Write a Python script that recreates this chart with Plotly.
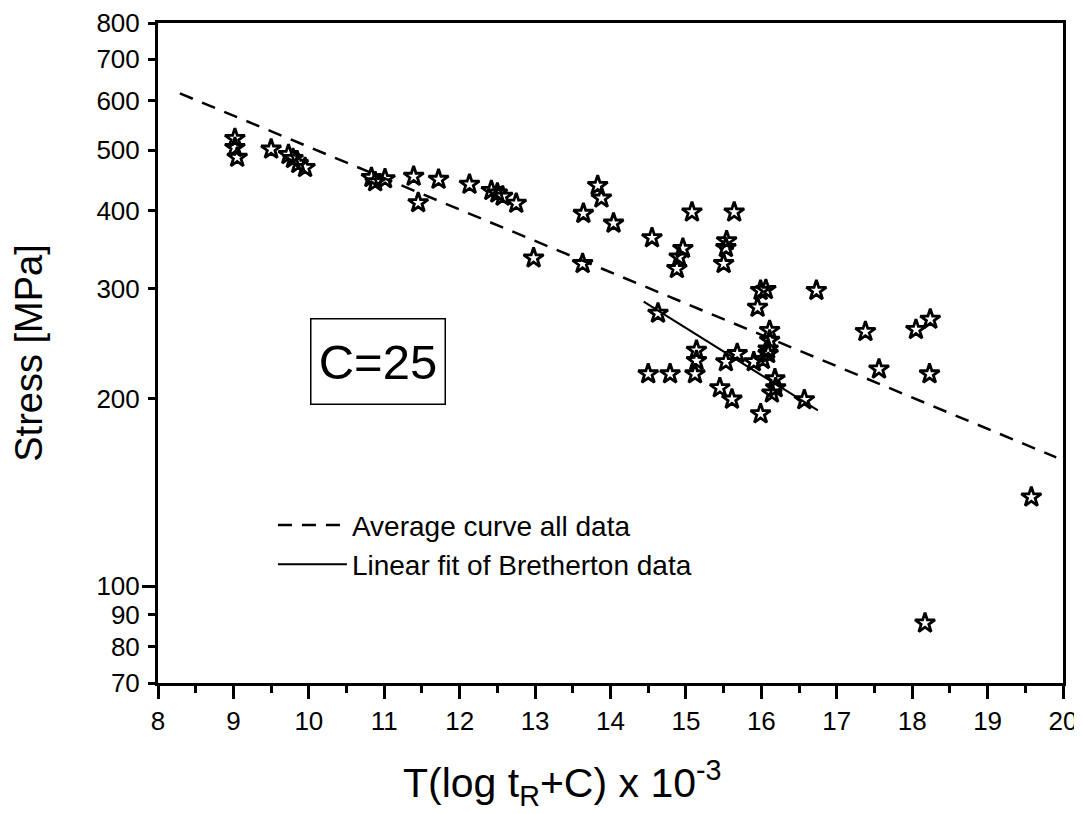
import plotly.graph_objects as go
import math

# Data points (Larson-Miller parameter x 1e-3, stress MPa)
lmp = [9.02, 9.02, 9.05, 9.50, 9.73, 9.79, 9.86, 9.95,
       10.83, 10.88, 11.01, 11.39, 11.45, 11.72, 12.13, 12.42, 12.50, 12.57, 12.75,
       12.98, 13.63, 13.83, 13.88, 13.64, 14.04,
       14.55, 15.08, 15.64, 14.96, 14.91, 14.88,
       15.54, 15.53, 15.50,
       15.99, 16.06, 15.95, 16.73,
       14.63, 16.11, 16.11, 16.09,
       15.14, 15.14, 15.12, 14.50, 14.79,
       15.53, 15.68, 15.90, 16.02, 16.09,
       15.45, 15.61, 15.99,
       16.18, 16.19, 16.14, 16.57,
       17.38, 18.05, 18.24, 17.56, 18.23, 19.58, 18.17]
stress = [522, 505, 487, 502, 492, 485, 476, 469,
          452, 445, 450, 454, 412, 449, 441, 431, 427, 422, 411,
          336, 329, 439, 419, 396, 382,
          362, 398, 398, 348, 337, 323,
          358, 349, 329,
          298, 299, 280, 298,
          274, 257, 248, 240,
          239, 230, 219, 219, 219,
          229, 236, 229, 231, 236,
          208, 199.5, 189,
          215, 208, 204, 199,
          256, 258, 268, 223, 219, 139, 87.3]

avg_x = [8.29, 19.91]
avg_y = [617, 161]

fit_x = [14.44, 16.75]
fit_y = [286, 191.5]

y_ticks = [70, 80, 90, 100, 200, 300, 400, 500, 600, 700, 800]
x_ticks = list(range(8, 21))

FONT = "Liberation Sans, Arial, sans-serif"

fig = go.Figure()
fig.add_trace(go.Scatter(x=lmp, y=stress, mode="markers", showlegend=False,
                         marker=dict(symbol="star-open", size=15, color="black",
                                     line=dict(width=2.8, color="black"))))
fig.add_trace(go.Scatter(x=avg_x, y=avg_y, mode="lines", name="Average curve all data",
                         line=dict(color="black", width=2.5, dash="14px,10px")))
fig.add_trace(go.Scatter(x=fit_x, y=fit_y, mode="lines", name="Linear fit of Bretherton data",
                         line=dict(color="black", width=2)))

fig.update_layout(
    width=1074, height=806,
    margin=dict(l=150, r=19, t=15, b=131, autoexpand=False),
    paper_bgcolor="white", plot_bgcolor="white",
    font=dict(family=FONT, color="black"),
    legend=dict(x=0.127, y=0.277, xanchor="left", yanchor="top",
                font=dict(size=28, family=FONT), bgcolor="rgba(0,0,0,0)",
                itemwidth=69, tracegroupgap=0),
    annotations=[
        dict(text="C=25", x=(378 - 158) / 905, y=(683 - 361) / 660, xref="paper", yref="paper",
             xanchor="center", yanchor="middle",
             showarrow=False, font=dict(size=49, family=FONT),
             width=133, height=84, borderpad=0,
             bordercolor="black", borderwidth=1.5,
             bgcolor="white"),
        dict(text="T(log t<sub>R</sub>+C) x 10<sup>-3</sup>", x=(562 - 158) / 905, y=-0.104,
             xref="paper", yref="paper", xanchor="center", yanchor="top",
             showarrow=False, font=dict(size=41, family=FONT)),
    ],
)
fig.update_xaxes(range=[8, 20], tickvals=x_ticks, ticktext=[str(v) for v in x_ticks],
                 ticks="outside", ticklen=13, tickwidth=2.5, tickcolor="black",
                 showline=True, linewidth=3, linecolor="black", mirror=True,
                 showgrid=False, zeroline=False, automargin=False,
                 tickfont=dict(size=26, family=FONT),
                 minor=dict(dtick=0.5, ticks="outside", ticklen=7, tickwidth=2.5,
                            tickcolor="black", showgrid=False))
fig.update_yaxes(type="log", range=[math.log10(70), math.log10(800)],
                 tickvals=y_ticks, ticktext=[str(v) for v in y_ticks],
                 ticks="outside", ticklen=7, tickwidth=2.5, tickcolor="black",
                 showline=True, linewidth=3, linecolor="black", mirror=True,
                 showgrid=False, zeroline=False, automargin=False,
                 tickfont=dict(size=26, family=FONT), ticklabelstandoff=3,
                 minor=dict(tickvals=[100], ticks="outside", ticklen=13, tickwidth=2.5,
                            tickcolor="black", showgrid=False),
                 title=dict(text="Stress [MPa]", font=dict(size=38, family=FONT), standoff=44))

fig.write_html("out.html")
